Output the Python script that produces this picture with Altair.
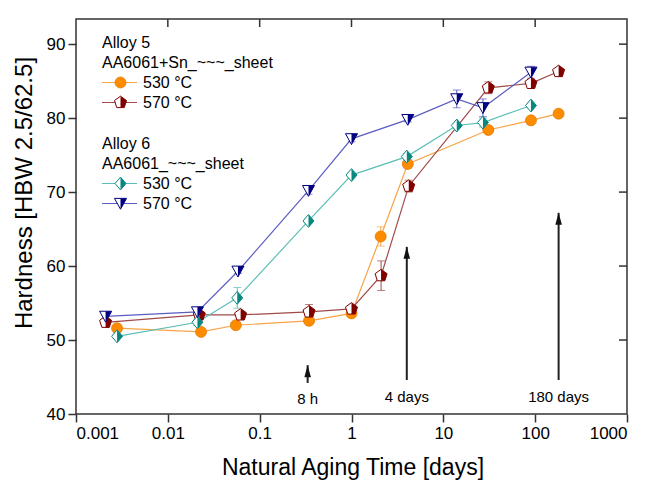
import altair as alt
import pandas as pd

# ---------------- data ----------------
# Alloy 5, AA6061+Sn, 530 °C
a5_530_x = [0.0028, 0.023, 0.055, 0.345, 1.0, 2.08, 4.1, 30.9, 90, 180]
a5_530_y = [51.6, 51.1, 52.0, 52.6, 53.6, 64.0, 73.8, 78.4, 79.7, 80.6]
a5_530_e = [0.3, 0.3, 0.3, 0.3, 0.3, 1.3, 0.6, 0.3, 0.3, 0.3]
# Alloy 5, AA6061+Sn, 570 °C
a5_570_x = [0.0021, 0.022, 0.062, 0.345, 1.0, 2.1, 4.2, 30.9, 90, 180]
a5_570_y = [52.4, 53.4, 53.4, 53.8, 54.2, 58.7, 70.8, 84.1, 84.7, 86.3]
a5_570_e = [0.4, 0.3, 0.4, 1.0, 0.5, 2.0, 0.8, 0.8, 0.4, 0.4]
# Alloy 6, AA6061, 530 °C
a6_530_x = [0.0028, 0.021, 0.057, 0.34, 1.0, 4.0, 14, 27, 90]
a6_530_y = [50.5, 52.4, 55.7, 66.1, 72.3, 74.8, 79.0, 79.4, 81.7]
a6_530_e = [0.3, 0.4, 1.4, 0.3, 0.3, 0.4, 0.3, 0.6, 0.3]
# Alloy 6, AA6061, 570 °C
a6_570_x = [0.0021, 0.021, 0.058, 0.34, 1.0, 4.1, 14, 27, 90]
a6_570_y = [53.2, 53.8, 59.3, 70.2, 77.2, 79.8, 82.6, 81.4, 86.2]
a6_570_e = [0.5, 0.4, 0.3, 0.5, 0.4, 0.3, 1.2, 1.2, 0.8]

# annotation arrows
arrow_x = [0.333, 4.0, 180.0]
arrow_y0 = [44.2, 44.6, 44.6]
arrow_y1 = [46.6, 62.6, 67.2]
arrow_label = ["8 h", "4 days", "180 days"]
arrow_label_y = [42.0, 42.3, 42.3]

x_ticks = [0.001, 0.01, 0.1, 1, 10, 100, 1000]
y_ticks = [40, 50, 60, 70, 80, 90]

# ---------------- styles ----------------
FONT = "Liberation Sans"
W, H = 551, 395

PENT = "M0,-1L0.95,-0.31L0.59,0.81L-0.59,0.81L-0.95,-0.31Z"
PENT_R = "M0,-1L0.95,-0.31L0.59,0.81L0,0.81Z"
DIAM = "M0,-1L0.85,0L0,1L-0.85,0Z"
DIAM_R = "M0,-1L0.85,0L0,1Z"
TRI = "M-1,-0.85L1,-0.85L0,0.95Z"
TRI_R = "M0,-0.85L1,-0.85L0,0.95Z"

styles = {
    "a5_530": dict(line="#F8A448", mark="#FF8C00", shape="circle", half=None, size=120),
    "a5_570": dict(line="#A04A4A", mark="#800000", shape=PENT, half=PENT_R, size=160),
    "a6_530": dict(line="#5CBFB6", mark="#07877F", shape=DIAM, half=DIAM_R, size=165),
    "a6_570": dict(line="#5C5CC2", mark="#000080", shape=TRI, half=TRI_R, size=145),
}

series = {
    "a5_530": (a5_530_x, a5_530_y, a5_530_e),
    "a5_570": (a5_570_x, a5_570_y, a5_570_e),
    "a6_530": (a6_530_x, a6_530_y, a6_530_e),
    "a6_570": (a6_570_x, a6_570_y, a6_570_e),
}

xscale = alt.Scale(type="log", domain=[0.001, 1000], nice=False)
yscale = alt.Scale(domain=[40, 93.4], nice=False, zero=False)

xaxis = alt.Axis(values=x_ticks, format="~g", labelFont=FONT, labelFontSize=17,
                 labelColor="black", tickSize=8, tickWidth=1.5, tickColor="#333",
                 domain=False, grid=False, labelPadding=3,
                 title="Natural Aging Time [days]", titleFont=FONT, titleFontSize=23,
                 titleFontWeight="normal", titleColor="black",
                 titleX=W / 2 + 1, titleY=53, titleBaseline="middle", titleAlign="center")
yaxis = alt.Axis(values=y_ticks, labelFont=FONT, labelFontSize=17, labelColor="black",
                 tickSize=8, tickWidth=1.5, tickColor="#333", domain=False, grid=False,
                 labelPadding=3,
                 title="Hardness [HBW 2.5/62.5]", titleFont=FONT, titleFontSize=24,
                 titleFontWeight="normal", titleColor="black",
                 titleX=-52, titleY=173.5, titleBaseline="middle", titleAlign="center",
                 titleAngle=-90)


def X(field="x"):
    return alt.X(f"{field}:Q", scale=xscale, axis=xaxis)


def Y(field="y"):
    return alt.Y(f"{field}:Q", scale=yscale, axis=yaxis)


layers = []

# lines
for key, (xs, ys, es) in series.items():
    df = pd.DataFrame({"x": xs, "y": ys})
    st = styles[key]
    layers.append(alt.Chart(df).mark_line(color=st["line"], strokeWidth=1.2)
                  .encode(x=X(), y=Y(), order="x:Q"))

# error bars
for key, (xs, ys, es) in series.items():
    df = pd.DataFrame({"x": xs, "lo": [a - b for a, b in zip(ys, es)],
                       "hi": [a + b for a, b in zip(ys, es)]})
    st = styles[key]
    layers.append(alt.Chart(df).mark_rule(color=st["line"], strokeWidth=1)
                  .encode(x=X(), y=Y("lo"), y2="hi:Q"))
    layers.append(alt.Chart(df).mark_tick(color=st["line"], orient="horizontal",
                                          size=8, thickness=1)
                  .encode(x=X(), y=Y("lo")))
    layers.append(alt.Chart(df).mark_tick(color=st["line"], orient="horizontal",
                                          size=8, thickness=1)
                  .encode(x=X(), y=Y("hi")))

# markers
for key, (xs, ys, es) in series.items():
    df = pd.DataFrame({"x": xs, "y": ys})
    st = styles[key]
    if st["half"] is None:
        layers.append(alt.Chart(df).mark_point(shape="circle", filled=True, opacity=1,
                                               fill=st["mark"], stroke="#E07800",
                                               strokeWidth=0.8, size=st["size"])
                      .encode(x=X(), y=Y()))
    else:
        layers.append(alt.Chart(df).mark_point(shape=st["shape"], filled=False, opacity=1,
                                               fill="white", fillOpacity=1,
                                               stroke=st["mark"], strokeWidth=1,
                                               size=st["size"])
                      .encode(x=X(), y=Y()))
        layers.append(alt.Chart(df).mark_point(shape=st["half"], filled=True, opacity=1,
                                               fill=st["mark"], strokeWidth=0,
                                               size=st["size"])
                      .encode(x=X(), y=Y()))

# arrows
adf = pd.DataFrame({"x": arrow_x, "y0": arrow_y0, "y1": arrow_y1,
                    "label": arrow_label, "ly": arrow_label_y})
layers.append(alt.Chart(adf).mark_rule(color="#222", strokeWidth=2)
              .encode(x=X(), y=Y("y0"), y2="y1:Q"))
layers.append(alt.Chart(adf).mark_point(shape="M0,-1L0.55,1L-0.55,1Z", filled=True,
                                        fill="#111", strokeWidth=0, opacity=1,
                                        size=144, yOffset=6)
              .encode(x=X(), y=Y("y1")))
layers.append(alt.Chart(adf).mark_text(font=FONT, fontSize=15, color="black",
                                       baseline="middle", align="center")
              .encode(x=X(), y=Y("ly"), text="label:N"))

# inward mirror ticks (top and right)
tdf = pd.DataFrame({"x": x_ticks[1:-1]})
layers.append(alt.Chart(tdf).mark_rule(color="#333", strokeWidth=1.5)
              .encode(x=X(), y=alt.value(0), y2=alt.value(8)))
rdf = pd.DataFrame({"y": y_ticks[1:]})
layers.append(alt.Chart(rdf).mark_rule(color="#333", strokeWidth=1.5)
              .encode(y=Y(), x=alt.value(W - 8), x2=alt.value(W)))

# legend (drawn inside the plot, top-left)
ONE = alt.Data(values=[{}])
LFS = 16


def text_item(txt, y):
    return alt.Chart(ONE).mark_text(text=txt, font=FONT, fontSize=LFS, color="black",
                                    align="left", baseline="middle").encode(
        x=alt.value(26), y=alt.value(y))


def legend_item(key, txt, y):
    st = styles[key]
    out = [alt.Chart(ONE).mark_rule(color=st["line"], strokeWidth=1.2).encode(
        x=alt.value(26), x2=alt.value(61), y=alt.value(y))]
    if st["half"] is None:
        out.append(alt.Chart(ONE).mark_point(shape="circle", filled=True, opacity=1,
                                             fill=st["mark"], stroke="#E07800",
                                             strokeWidth=0.8, size=st["size"])
                   .encode(x=alt.value(44.5), y=alt.value(y)))
    else:
        out.append(alt.Chart(ONE).mark_point(shape=st["shape"], filled=False, opacity=1,
                                             fill="white", fillOpacity=1,
                                             stroke=st["mark"], strokeWidth=1,
                                             size=st["size"])
                   .encode(x=alt.value(44.5), y=alt.value(y)))
        out.append(alt.Chart(ONE).mark_point(shape=st["half"], filled=True, opacity=1,
                                             fill=st["mark"], strokeWidth=0,
                                             size=st["size"])
                   .encode(x=alt.value(44.5), y=alt.value(y)))
    out.append(alt.Chart(ONE).mark_text(text=txt, font=FONT, fontSize=LFS, color="black",
                                        align="left", baseline="middle").encode(
        x=alt.value(67), y=alt.value(y)))
    return out


layers.append(text_item("Alloy 5", 23.5))
layers.append(text_item("AA6061+Sn_~~~_sheet", 43.5))
layers += legend_item("a5_530", "530 °C", 63.5)
layers += legend_item("a5_570", "570 °C", 83.5)
layers.append(text_item("Alloy 6", 124.5))
layers.append(text_item("AA6061_~~~_sheet", 144.5))
layers += legend_item("a6_530", "530 °C", 164.5)
layers += legend_item("a6_570", "570 °C", 184.5)

chart = alt.layer(*layers).properties(
    width=W, height=H,
    autosize=alt.AutoSizeParams(type="none"),
    padding={"left": 76, "top": 19, "right": 21, "bottom": 70},
    background="white",
).configure_view(stroke="#333", strokeWidth=1.5)

chart.save("out.html", embed_options={"renderer": "svg", "actions": False})
